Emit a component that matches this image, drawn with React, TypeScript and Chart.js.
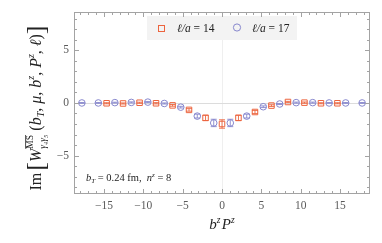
import React, { useEffect, useRef } from 'react';
import { Chart, registerables } from 'chart.js';

Chart.register(...registerables);

// ---- data ----
const squareX = [-14.66, -12.57, -10.47, -8.38, -6.28, -4.19, -2.09, 0, 2.09, 4.19, 6.28, 8.38, 10.47, 12.57, 14.66];
const squareY = [-0.03, -0.05, 0.02, -0.03, -0.23, -0.66, -1.42, -2.0, -1.42, -0.86, -0.25, 0.09, 0.03, -0.03, -0.03];
const squareErr = [0.05, 0.05, 0.05, 0.06, 0.08, 0.12, 0.25, 0.4, 0.25, 0.15, 0.08, 0.06, 0.06, 0.05, 0.05];

const circleX = [-17.8, -15.71, -13.61, -11.52, -9.42, -7.33, -5.24, -3.14, -1.05, 1.05, 3.14, 5.24, 7.33, 9.42, 11.52, 13.61, 15.71, 17.8];
const circleY = [0.0, 0.0, 0.03, 0.05, 0.08, -0.05, -0.4, -1.25, -1.9, -1.9, -1.25, -0.36, -0.1, 0.03, 0.03, 0.0, 0.0, 0.0];
const circleErr = [0.04, 0.04, 0.04, 0.05, 0.05, 0.05, 0.08, 0.18, 0.35, 0.35, 0.18, 0.08, 0.05, 0.05, 0.05, 0.04, 0.04, 0.04];

const legendLabels = ['\u2113/a = 14', '\u2113/a = 17'];
const xTickValues = [-15, -10, -5, 0, 5, 10, 15];
const yTickValues = [-5, 0, 5];
const xMinorValues = [-18, -17, -16, -15, -14, -13, -12, -11, -10, -9, -8, -7, -6, -5, -4, -3, -2, -1, 0, 1, 2, 3, 4, 5, 6, 7, 8, 9, 10, 11, 12, 13, 14, 15, 16, 17, 18];
const yMinorValues = [-8, -7, -6, -5, -4, -3, -2, -1, 0, 1, 2, 3, 4, 5, 6, 7, 8];
const xRange = [-18.8, 18.8];
const yRange = [-8.65, 8.65];

const SQ = 'rgb(236,100,62)';
const CI = 'rgb(135,135,205)';
const FRAME = '#a3a3a3';
const SERIF = '"Liberation Serif", "Times New Roman", serif';

type Seg = { t?: string; size?: number; it?: boolean; dy?: number; over?: boolean; stack?: Seg[] };

function segFont(s: Seg) {
  return `${s.it ? 'italic ' : ''}${s.size || 14}px ${SERIF}`;
}
function segWidth(ctx: CanvasRenderingContext2D, s: Seg): number {
  if (s.stack) return Math.max(...s.stack.map((q) => segWidth(ctx, q)));
  ctx.font = segFont(s);
  return ctx.measureText(s.t || '').width;
}
function totalWidth(ctx: CanvasRenderingContext2D, segs: Seg[]) {
  return segs.reduce((a, s) => a + segWidth(ctx, s), 0);
}
function drawSegs(ctx: CanvasRenderingContext2D, segs: Seg[], x: number, y: number) {
  let cx = x;
  for (const s of segs) {
    const w = segWidth(ctx, s);
    if (s.stack) {
      for (const q of s.stack) {
        ctx.font = segFont(q);
        ctx.fillText(q.t || '', cx, y + (q.dy || 0));
        if (q.over) {
          const qw = segWidth(ctx, q);
          const oy = y + (q.dy || 0) - (q.size || 14) * 0.78;
          ctx.beginPath();
          ctx.moveTo(cx, oy);
          ctx.lineTo(cx + qw, oy);
          ctx.lineWidth = 0.8;
          ctx.stroke();
        }
      }
    } else {
      ctx.font = segFont(s);
      ctx.fillText(s.t || '', cx, y + (s.dy || 0));
    }
    cx += w;
  }
}

const fmt = (v: number) => (v < 0 ? '\u2212' + Math.abs(v) : String(v));

const decorPlugin = {
  id: 'decor',
  beforeDatasetsDraw(chart: any) {
    const { ctx, chartArea: a, scales } = chart;
    const xs = scales.x;
    const ys = scales.y;
    ctx.save();
    // zero lines
    const y0 = Math.round(ys.getPixelForValue(0)) + 0.5;
    const x0 = Math.round(xs.getPixelForValue(0)) + 0.5;
    ctx.lineWidth = 1;
    ctx.strokeStyle = '#efefef';
    ctx.beginPath();
    ctx.moveTo(x0, a.top);
    ctx.lineTo(x0, a.bottom);
    ctx.stroke();
    ctx.strokeStyle = '#dcdcdc';
    ctx.beginPath();
    ctx.moveTo(a.left, y0);
    ctx.lineTo(a.right, y0);
    ctx.stroke();
    // legend box
    ctx.fillStyle = '#f3f3f3';
    ctx.fillRect(147, 16, 150, 24);
    ctx.lineWidth = 1;
    ctx.strokeStyle = SQ;
    ctx.strokeRect(158.5, 25.5, 6, 6);
    ctx.strokeStyle = CI;
    ctx.beginPath();
    ctx.arc(237, 27.5, 3.6, 0, Math.PI * 2);
    ctx.stroke();
    ctx.fillStyle = '#222';
    ctx.textBaseline = 'alphabetic';
    ctx.textAlign = 'left';
    const leg = (label: string): Seg[] => {
      const [lhs, rhs] = label.split(' = ');
      return [
        { t: lhs, size: 11.5, it: true },
        { t: ' = ' + rhs, size: 11.5 },
      ];
    };
    drawSegs(ctx, leg(legendLabels[0]), 177, 32);
    drawSegs(ctx, leg(legendLabels[1]), 252, 32);
    ctx.restore();
  },
  afterDatasetsDraw(chart: any) {
    const { ctx, scales } = chart;
    const ys = scales.y;
    const errs = [squareErr, circleErr];
    const vals = [squareY, circleY];
    const cols = [SQ, CI];
    ctx.save();
    ctx.lineWidth = 0.9;
    [0, 1].forEach((i) => {
      const meta = chart.getDatasetMeta(i);
      ctx.strokeStyle = cols[i];
      meta.data.forEach((pt: any, j: number) => {
        const yt = ys.getPixelForValue(vals[i][j] + errs[i][j]);
        const yb = ys.getPixelForValue(vals[i][j] - errs[i][j]);
        const x = pt.x;
        ctx.beginPath();
        ctx.moveTo(x, yt);
        ctx.lineTo(x, yb);
        ctx.moveTo(x - 3, yt);
        ctx.lineTo(x + 3, yt);
        ctx.moveTo(x - 3, yb);
        ctx.lineTo(x + 3, yb);
        ctx.stroke();
      });
    });
    ctx.restore();
  },
  afterDraw(chart: any) {
    const { ctx, chartArea: a, scales } = chart;
    const xs = scales.x;
    const ys = scales.y;
    ctx.save();
    ctx.strokeStyle = FRAME;
    ctx.lineWidth = 1;
    const L = Math.round(a.left) + 0.5;
    const R = Math.round(a.right) - 0.5;
    const T = Math.round(a.top) + 0.5;
    const B = Math.round(a.bottom) - 0.5;
    ctx.strokeRect(L, T, R - L, B - T);
    ctx.beginPath();
    xMinorValues.forEach((v) => {
      const p = Math.round(xs.getPixelForValue(v)) + 0.5;
      const len = xTickValues.includes(v) ? 4.5 : 2.5;
      ctx.moveTo(p, B);
      ctx.lineTo(p, B - len);
      ctx.moveTo(p, T);
      ctx.lineTo(p, T + len);
    });
    yMinorValues.forEach((v) => {
      const p = Math.round(ys.getPixelForValue(v)) + 0.5;
      const len = yTickValues.includes(v) ? 4.5 : 2.5;
      ctx.moveTo(L, p);
      ctx.lineTo(L + len, p);
      ctx.moveTo(R, p);
      ctx.lineTo(R - len, p);
    });
    ctx.stroke();

    // annotation
    ctx.fillStyle = '#222';
    ctx.strokeStyle = '#222';
    ctx.textAlign = 'left';
    ctx.textBaseline = 'alphabetic';
    const ann: Seg[] = [
      { t: 'b', size: 10.5, it: true },
      { t: 'T', size: 7, it: true, dy: 2 },
      { t: ' = 0.24 fm,  ', size: 10.5 },
      { t: 'n', size: 10.5, it: true },
      { t: 'z', size: 7, it: true, dy: -4 },
      { t: ' = 8', size: 10.5 },
    ];
    drawSegs(ctx, ann, 86, 181);

    // x title
    const xt: Seg[] = [
      { t: 'b', size: 15, it: true },
      { t: 'z', size: 9.5, it: true, dy: -6 },
      { t: ' ', size: 5 },
      { t: 'P', size: 15, it: true },
      { t: 'z', size: 9.5, it: true, dy: -6 },
    ];
    const xw = totalWidth(ctx, xt);
    drawSegs(ctx, xt, 222 - xw / 2, 229);

    // y title
    const B16 = 16;
    const yt: Seg[] = [
      { t: 'Im', size: B16 },
      { t: ' ', size: 8 },
      { t: '[', size: 26, dy: 3 },
      { t: 'W', size: B16, it: true },
      { stack: [ { t: 'MS', size: 9.5, dy: -8, over: true }, { t: '\u03b3\u2084\u03b3\u2085', size: 9.5, it: true, dy: 5 } ] },
      { t: ' (', size: B16 },
      { t: 'b', size: B16, it: true },
      { t: 'T', size: 10, it: true, dy: 3 },
      { t: ', ', size: B16 },
      { t: '\u03bc', size: B16, it: true },
      { t: ', ', size: B16 },
      { t: 'b', size: B16, it: true },
      { t: 'z', size: 10, it: true, dy: -7 },
      { t: ', ', size: B16 },
      { t: 'P', size: B16, it: true },
      { t: 'z', size: 10, it: true, dy: -7 },
      { t: ', ', size: B16 },
      { t: '\u2113', size: B16, it: true },
      { t: ')', size: B16 },
      { t: ']', size: 26, dy: 3 },
    ];
    ctx.translate(41, 108);
    ctx.rotate(-Math.PI / 2);
    const yw = totalWidth(ctx, yt);
    drawSegs(ctx, yt, -yw / 2, 0);
    ctx.restore();
  },
};

export default function App() {
  const ref = useRef<HTMLCanvasElement>(null);
  useEffect(() => {
    if (!ref.current) return;
    const chart = new Chart(ref.current, {
      type: 'scatter',
      data: {
        datasets: [
          {
            label: legendLabels[0],
            data: squareX.map((x, i) => ({ x, y: squareY[i] })),
            pointStyle: 'rect',
            pointRadius: 3.9,
            borderColor: SQ,
            backgroundColor: 'rgba(0,0,0,0)',
            borderWidth: 1,
          },
          {
            label: legendLabels[1],
            data: circleX.map((x, i) => ({ x, y: circleY[i] })),
            pointStyle: 'circle',
            pointRadius: 3.3,
            borderColor: CI,
            backgroundColor: 'rgba(0,0,0,0)',
            borderWidth: 1,
          },
        ],
      },
      options: {
        animation: false,
        responsive: false,
        events: [],
        layout: { padding: { left: 0, top: 11, right: 12, bottom: 0 } },
        plugins: { legend: { display: false }, tooltip: { enabled: false } },
        scales: {
          x: {
            type: 'linear',
            min: xRange[0],
            max: xRange[1],
            afterBuildTicks: (s: any) => {
              s.ticks = xTickValues.map((v) => ({ value: v }));
            },
            afterFit: (s: any) => {
              s.height = 49;
            },
            ticks: {
              callback: (v: any) => fmt(Number(v)),
              font: { family: SERIF, size: 11.5 },
              color: '#5a5a5a',
              padding: 5,
              maxRotation: 0,
              autoSkip: false,
            },
            grid: { display: false, drawTicks: false },
            border: { display: false },
          },
          y: {
            type: 'linear',
            min: yRange[0],
            max: yRange[1],
            afterBuildTicks: (s: any) => {
              s.ticks = yTickValues.map((v) => ({ value: v }));
            },
            afterFit: (s: any) => {
              s.width = 74;
            },
            ticks: {
              callback: (v: any) => fmt(Number(v)),
              font: { family: SERIF, size: 11.5 },
              color: '#5a5a5a',
              padding: 5,
              autoSkip: false,
            },
            grid: { display: false, drawTicks: false },
            border: { display: false },
          },
        },
      },
      plugins: [decorPlugin],
    });
    return () => chart.destroy();
  }, []);
  return (
    <div style={{ position: 'absolute', left: 0, top: 0, width: 382, height: 243, background: '#fff' }}>
      <canvas ref={ref} width={382} height={243} style={{ display: 'block', width: 382, height: 243 }} />
    </div>
  );
}
